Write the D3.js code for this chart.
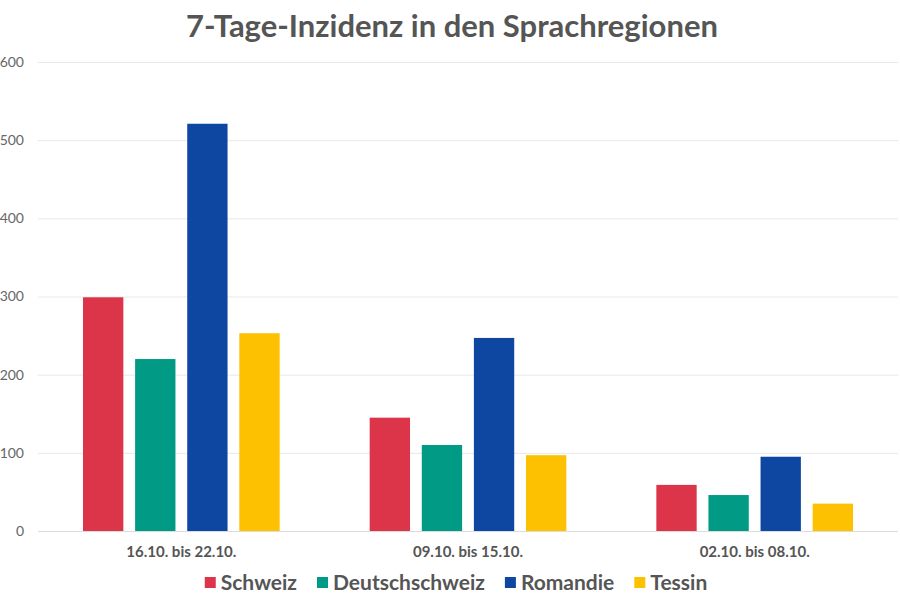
<!DOCTYPE html>
<html>
<head>
<meta charset="utf-8">
<script src="https://cdn.jsdelivr.net/npm/d3@7/dist/d3.min.js"></script>
<style>
  html, body { margin: 0; padding: 0; background: #fff; }
  svg { display: block; font-family: Lato, "Open Sans", sans-serif; }
</style>
</head>
<body>
<svg id="chart" width="900" height="600"></svg>
<script>
const title = "7-Tage-Inzidenz in den Sprachregionen";
const categories = ["16.10. bis 22.10.", "09.10. bis 15.10.", "02.10. bis 08.10."];
const seriesNames = ["Schweiz", "Deutschschweiz", "Romandie", "Tessin"];
const seriesColors = ["#dc3549", "#019a84", "#0d47a1", "#fdc101"];
const schweiz = [299, 145, 59];
const deutschschweiz = [220, 110, 46];
const romandie = [521, 247, 95];
const tessin = [253, 97, 35];
const yTicks = [0, 100, 200, 300, 400, 500, 600];

(function () {
const seriesValues = [schweiz, deutschschweiz, romandie, tessin];
const rows = categories.map((c, i) => ({
  cat: c,
  vals: seriesNames.map((s, j) => ({ key: s, value: seriesValues[j][i], color: seriesColors[j] }))
}));

const svg = d3.select("#chart");
const mLeft = 38, mRight = 898, mTop = 62, mBottom = 531;

const y = d3.scaleLinear().domain([0, 600]).range([mBottom, mTop]);
const x0 = d3.scaleBand().domain(categories).range([mLeft, mRight])
  .paddingInner(0.314).paddingOuter(0.157);
const x1 = d3.scaleBand().domain(seriesNames).range([0, x0.bandwidth()]).paddingInner(0.226);

// gridlines
svg.append("g").selectAll("line").data(yTicks).join("line")
  .attr("x1", mLeft).attr("x2", mRight)
  .attr("y1", d => y(d) + 0.5).attr("y2", d => y(d) + 0.5)
  .attr("stroke", d => d === 0 ? "#dcdcdc" : "#e8e8e8").attr("stroke-width", 1);

// y axis labels
const yAxis = d3.axisLeft(y).tickValues(yTicks).tickSize(0).tickPadding(0);
const ya = svg.append("g").attr("transform", `translate(24,0)`).call(yAxis);
ya.select(".domain").remove();
ya.selectAll("text").attr("fill", "#666").style("font-size", "14px").style("font-family", "Lato");

// bars
const g = svg.append("g").selectAll("g").data(rows).join("g")
  .attr("transform", d => `translate(${x0(d.cat)},0)`);
g.selectAll("rect").data(d => d.vals).join("rect")
  .attr("x", d => x1(d.key))
  .attr("width", x1.bandwidth())
  .attr("y", d => y(d.value))
  .attr("height", d => y(0) - y(d.value))
  .attr("fill", d => d.color);

// x axis labels
const xAxis = d3.axisBottom(x0).tickSize(0).tickPadding(0);
const xa = svg.append("g").attr("transform", `translate(0,${mBottom + 15})`).call(xAxis);
xa.select(".domain").remove();
xa.selectAll("text").attr("fill", "#555").style("font-size", "15px")
  .style("font-weight", "bold").style("font-family", "Lato");

// title
svg.append("text").attr("x", 452).attr("y", 37).attr("text-anchor", "middle")
  .style("font-size", "31px").style("font-weight", "bold").attr("fill", "#555")
  .text(title);

// legend
const leg = svg.append("g");
const items = leg.selectAll("g").data(seriesNames).join("g");
items.append("rect").attr("width", 11).attr("height", 11).attr("y", 577)
  .attr("fill", (d, i) => seriesColors[i]);
items.append("text").attr("x", 16).attr("y", 590)
  .style("font-size", "21px").style("font-weight", "bold").attr("fill", "#555")
  .text(d => d);
let xpos = 0;
const gap = 20;
const positions = [];
items.each(function () {
  const w = 16 + d3.select(this).select("text").node().getComputedTextLength();
  positions.push(xpos);
  xpos += w + gap;
});
const total = xpos - gap;
const startX = 456 - total / 2;
items.attr("transform", (d, i) => `translate(${startX + positions[i]},0)`);
})();
</script>
</body>
</html>
